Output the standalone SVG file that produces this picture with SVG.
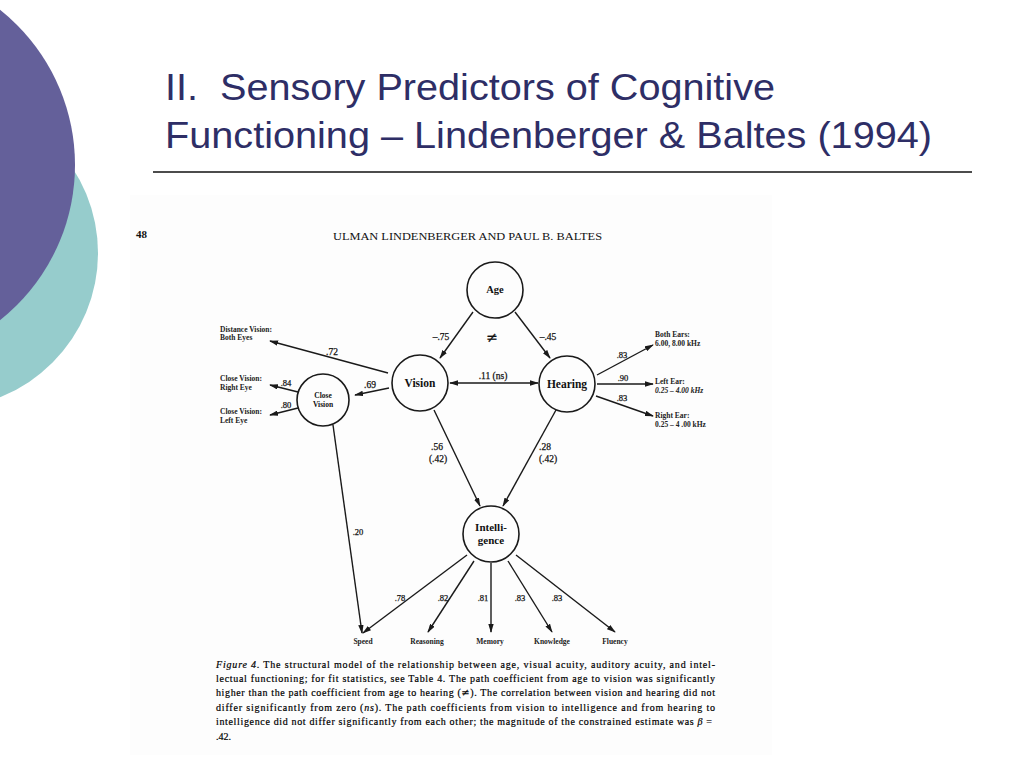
<svg xmlns="http://www.w3.org/2000/svg" width="1024" height="768" viewBox="0 0 1024 768">
<defs>
<style>
.t{font-family:"Liberation Serif","Times New Roman",serif;fill:#111}
.nd{fill:none;stroke:#1a1a1a;stroke-width:1.6}
.nl{font-family:"Liberation Serif","Times New Roman",serif;font-weight:bold;fill:#111;text-anchor:middle}
.ln{stroke:#1a1a1a;stroke-width:1.4;fill:none}
.ar{marker-end:url(#ah)}
.lab{font-family:"Liberation Serif","Times New Roman",serif;font-size:7.5px;font-weight:bold;fill:#222}
.coef{font-family:"Liberation Serif","Times New Roman",serif;font-size:9.5px;fill:#111;stroke:#111;stroke-width:0.25;text-anchor:middle}
.coef.sm{font-size:8.5px}
.coef.ne{font-size:14px}
.cap{font-family:"Liberation Serif","Times New Roman",serif;font-size:10px;fill:#000;stroke:#000;stroke-width:0.2}
.sym{font-family:"DejaVu Serif","DejaVu Sans",serif}
.ttl{font-family:"Liberation Sans",Arial,sans-serif;font-size:36px;fill:#2E2E66}
</style>
<marker id="ah" viewBox="0 0 10 6" refX="9" refY="3" markerWidth="9" markerHeight="5.5" markerUnits="userSpaceOnUse" orient="auto-start-reverse">
<path d="M0,0 L10,3 L0,6 z" fill="#1a1a1a"/>
</marker>
</defs>
<rect width="1024" height="768" fill="#ffffff"/>
<g id="decoration">
<circle cx="-57" cy="253" r="155" fill="#96CCCC"/>
<circle cx="-123" cy="165" r="198" fill="#64609A"/>
</g>
<g id="title">
<text class="ttl" x="165" y="100" textLength="610" lengthAdjust="spacingAndGlyphs">II.&#160; Sensory Predictors of Cognitive</text>
<text class="ttl" x="165" y="148" textLength="767" lengthAdjust="spacingAndGlyphs">Functioning – Lindenberger &amp; Baltes (1994)</text>
<line x1="153" y1="172" x2="972" y2="172" stroke="#111" stroke-width="1.5"/>
</g>
<rect x="130" y="195" width="642" height="560" fill="#fdfdfd"/>
<g id="page-header">
<text class="t" x="136" y="238" font-size="11" font-weight="bold">48</text>
<text class="t" x="333" y="240" font-size="10.5" textLength="269" lengthAdjust="spacingAndGlyphs">ULMAN LINDENBERGER AND PAUL B. BALTES</text>
</g>
<g id="connectors">
<line class="ln ar" x1="473" y1="312" x2="440" y2="358"/>
<line class="ln ar" x1="515" y1="312" x2="550" y2="358"/>
<line class="ln ar" x1="450" y1="383" x2="538" y2="383" marker-start="url(#ah)"/>
<line class="ln ar" x1="388" y1="373" x2="270" y2="341"/>
<line class="ln ar" x1="389" y1="388" x2="355" y2="395"/>
<line class="ln ar" x1="298" y1="392" x2="270" y2="385"/>
<line class="ln ar" x1="298" y1="408" x2="270" y2="415"/>
<line class="ln ar" x1="597" y1="375" x2="653" y2="345"/>
<line class="ln ar" x1="597" y1="384" x2="653" y2="384"/>
<line class="ln ar" x1="596" y1="396" x2="653" y2="416"/>
<line class="ln ar" x1="434" y1="410" x2="480" y2="506"/>
<line class="ln ar" x1="556" y1="410" x2="503" y2="506"/>
<line class="ln ar" x1="333" y1="425" x2="362" y2="633"/>
<line class="ln ar" x1="467" y1="555" x2="363" y2="633"/>
<line class="ln ar" x1="474" y1="561" x2="428" y2="632"/>
<line class="ln ar" x1="491" y1="563" x2="491" y2="632"/>
<line class="ln ar" x1="508" y1="561" x2="552" y2="632"/>
<line class="ln ar" x1="516" y1="555" x2="615" y2="632"/>
</g>
<g id="coefficients">
<text class="coef" x="441" y="340">–.75</text>
<text class="coef" x="548" y="340">–.45</text>
<text class="coef ne sym" x="492" y="342">≠</text>
<text class="coef" x="493" y="379">.11 (ns)</text>
<text class="coef" x="332" y="355">.72</text>
<text class="coef" x="370" y="388">.69</text>
<text class="coef sm" x="286" y="386">.84</text>
<text class="coef sm" x="286" y="408">.80</text>
<text class="coef sm" x="622" y="358">.83</text>
<text class="coef sm" x="623" y="381">.90</text>
<text class="coef sm" x="622" y="401">.83</text>
<text class="coef" x="437" y="450">.56</text>
<text class="coef" x="438" y="462">(.42)</text>
<text class="coef" x="545" y="450">.28</text>
<text class="coef" x="548" y="462">(.42)</text>
<text class="coef sm" x="358" y="535">.20</text>
<text class="coef sm" x="400" y="601">.78</text>
<text class="coef sm" x="443" y="601">.82</text>
<text class="coef sm" x="483" y="601">.81</text>
<text class="coef sm" x="520" y="601">.83</text>
<text class="coef sm" x="557" y="601">.83</text>
</g>
<g id="node-age"><circle class="nd" cx="495" cy="290" r="28"/><text class="nl" x="495" y="293" font-size="10.5">Age</text></g>
<g id="node-vision"><circle class="nd" cx="420" cy="383" r="28"/><text class="nl" x="420" y="387" font-size="11.5">Vision</text></g>
<g id="node-hearing"><circle class="nd" cx="567" cy="384" r="28"/><text class="nl" x="567" y="388" font-size="11.5">Hearing</text></g>
<g id="node-close-vision"><circle class="nd" cx="323" cy="400" r="26"/><text class="nl" x="323" y="398" font-size="7.5">Close</text><text class="nl" x="323" y="407" font-size="7.5">Vision</text></g>
<g id="node-intelligence"><circle class="nd" cx="491" cy="534" r="28"/><text class="nl" x="491" y="531" font-size="11">Intelli-</text><text class="nl" x="491" y="544" font-size="11">gence</text></g>
<g id="ind-distance"><text class="lab" x="220" y="332">Distance Vision:</text><text class="lab" x="220" y="340">Both Eyes</text></g>
<g id="ind-right-eye"><text class="lab" x="220" y="381">Close Vision:</text><text class="lab" x="220" y="390">Right Eye</text></g>
<g id="ind-left-eye"><text class="lab" x="220" y="414">Close Vision:</text><text class="lab" x="220" y="423">Left Eye</text></g>
<g id="ind-both-ears"><text class="lab" x="655" y="337">Both Ears:</text><text class="lab" x="655" y="346">6.00, 8.00 kHz</text></g>
<g id="ind-left-ear"><text class="lab" x="655" y="384">Left Ear:</text><text class="lab" x="655" y="393" font-style="italic">0.25 – 4.00 kHz</text></g>
<g id="ind-right-ear"><text class="lab" x="655" y="418">Right Ear:</text><text class="lab" x="655" y="427">0.25 – 4 .00 kHz</text></g>
<g id="ind-speed"><text class="lab" x="363" y="644" text-anchor="middle">Speed</text></g>
<g id="ind-reasoning"><text class="lab" x="427" y="644" text-anchor="middle">Reasoning</text></g>
<g id="ind-memory"><text class="lab" x="490" y="644" text-anchor="middle">Memory</text></g>
<g id="ind-knowledge"><text class="lab" x="552" y="644" text-anchor="middle">Knowledge</text></g>
<g id="ind-fluency"><text class="lab" x="615" y="644" text-anchor="middle">Fluency</text></g>
<g id="caption">
<text class="cap" x="216" y="668" textLength="499" lengthAdjust="spacing"><tspan font-style="italic">Figure 4.</tspan>   The structural model of the relationship between age, visual acuity, auditory acuity, and intel-</text>
<text class="cap" x="216" y="682" textLength="499" lengthAdjust="spacing">lectual functioning; for fit statistics, see Table 4. The path coefficient from age to vision was significantly</text>
<text class="cap" x="216" y="696" textLength="499" lengthAdjust="spacing">higher than the path coefficient from age to hearing (<tspan class="sym" font-style="italic">≠</tspan>). The correlation between vision and hearing did not</text>
<text class="cap" x="216" y="711" textLength="499" lengthAdjust="spacing">differ significantly from zero (<tspan font-style="italic">ns</tspan>). The path coefficients from vision to intelligence and from hearing to</text>
<text class="cap" x="216" y="725" textLength="496" lengthAdjust="spacing">intelligence did not differ significantly from each other; the magnitude of the constrained estimate was <tspan font-style="italic">β</tspan> =</text>
<text class="cap" x="216" y="740">.42.</text>
</g>
</svg>
